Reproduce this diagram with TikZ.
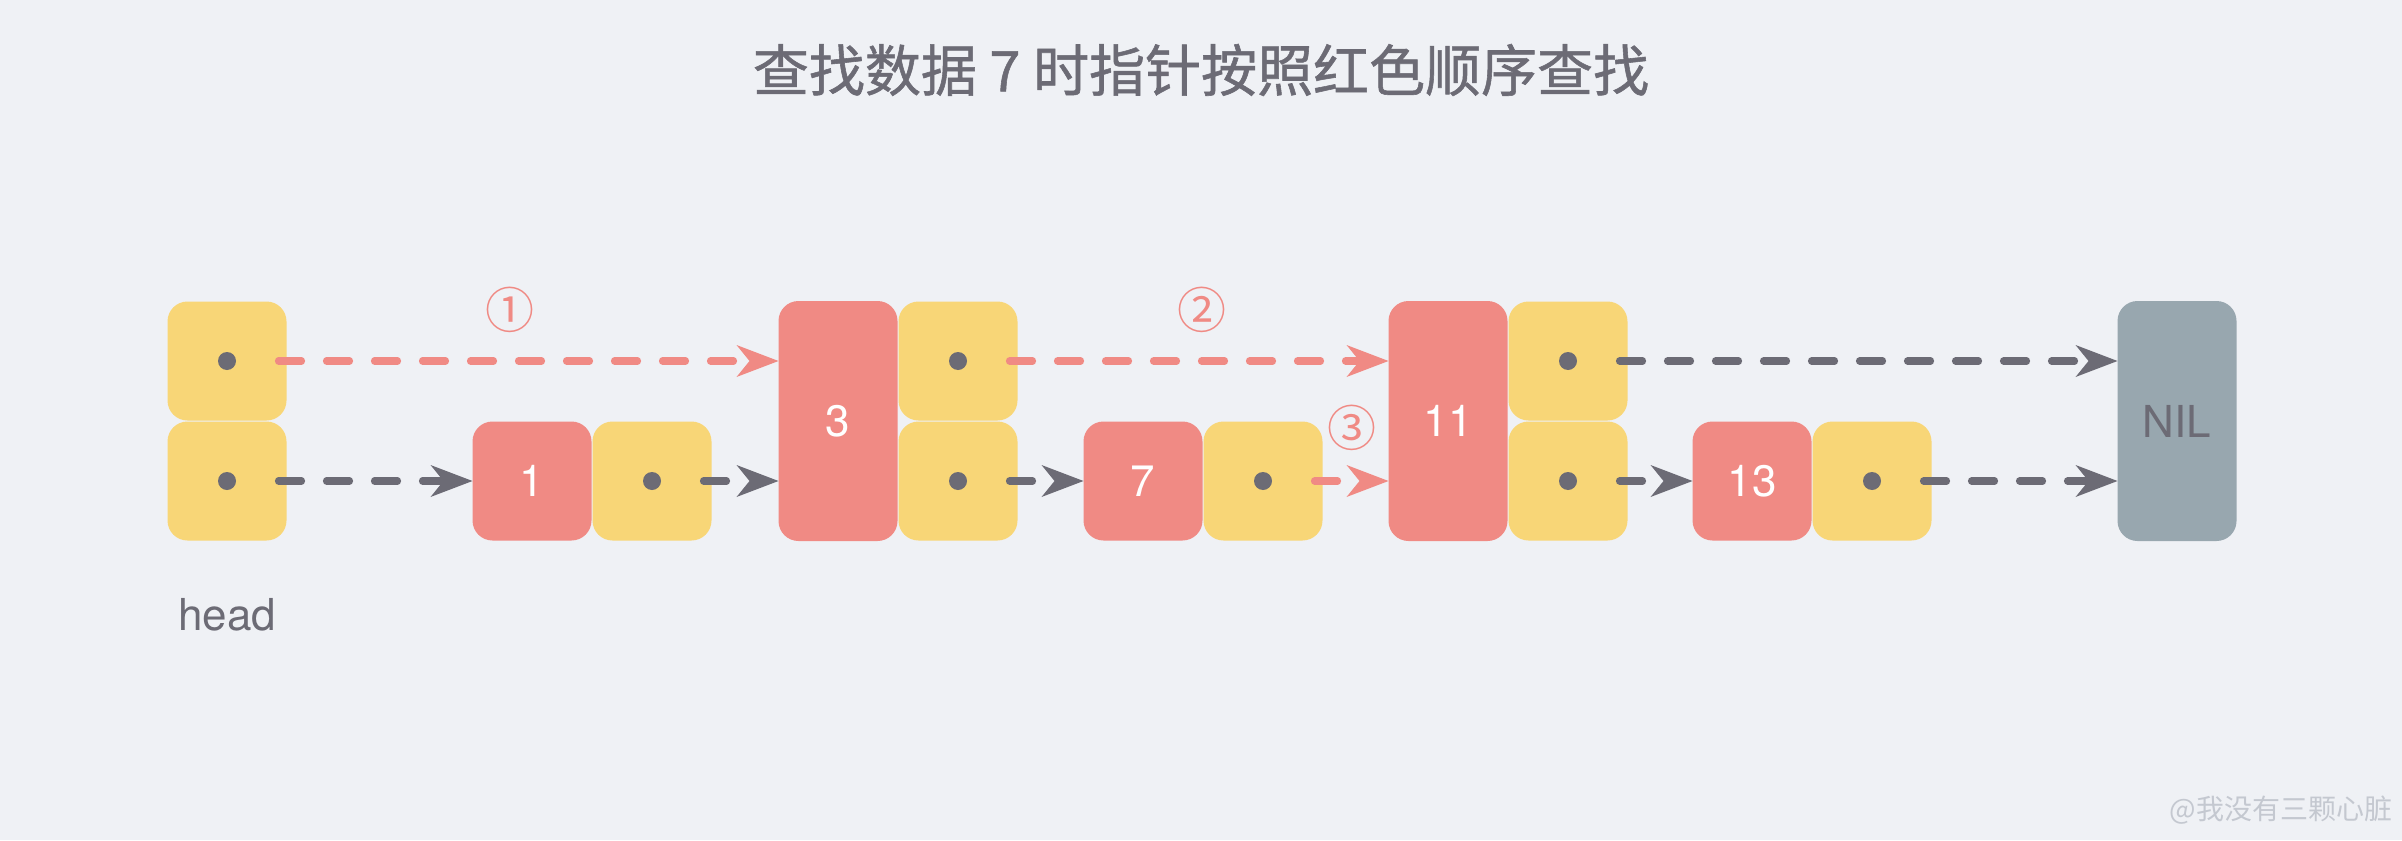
\documentclass[tikz,border=0pt]{standalone}
\usepackage{fontspec}
\setmainfont{TeX Gyre Heros}
\newfontfamily\cjk{Noto Sans CJK SC}
\newfontfamily\cjkb[FakeBold=1.0]{Noto Sans CJK SC}
\usetikzlibrary{arrows.meta}
\definecolor{bg}{HTML}{EFF1F5}
\definecolor{ylw}{HTML}{F8D677}
\definecolor{rd}{HTML}{F08A84}
\definecolor{gry}{HTML}{98A7AF}
\definecolor{dk}{HTML}{6C6B75}
\definecolor{wm}{HTML}{C4C8D0}
\begin{document}
\begin{tikzpicture}[x=0.5pt,y=-0.5pt,
  box/.style={rectangle,rounded corners=10pt,minimum width=59.5pt,minimum height=59.5pt,inner sep=0pt,outer sep=0pt},
  ybox/.style={box,fill=ylw},
  rbox/.style={box,fill=rd,text=white,font=\fontsize{22}{26}\selectfont},
  tall/.style={minimum height=120pt},
  nilbox/.style={box,fill=gry,text=dk,minimum height=120pt,font=\fontsize{22}{26}\selectfont},
  dotc/.style={circle,fill=dk,minimum size=9pt,inner sep=0pt},
  ptr/.style={dash pattern=on 11.5pt off 12.5pt,line width=3.6pt,line cap=round,-{Stealth[length=21pt,width=16pt,inset=6.5pt,line width=0pt]}},
  gptr/.style={ptr,draw=dk},
  rptr/.style={ptr,draw=rd},
  circnum/.style={text=rd,font=\cjk\fontsize{24.5}{27}\selectfont,inner sep=0pt},
  ]
\fill[bg] (0,0) rectangle (2402,840);
\useasboundingbox (0,0) rectangle (2402,840);

% title
\node[text=dk,font=\cjkb\fontsize{28}{32}\selectfont] (title) at (1201,70) {查找数据 7 时指针按照红色顺序查找};

% head
\node[ybox] (h1) at (227,361) {};
\node[ybox] (h0) at (227,481) {};
\node[dotc] (dh1) at (h1.center) {};
\node[dotc] (dh0) at (h0.center) {};
\node[text=dk,font=\fontsize{22}{26}\selectfont] (headlbl) at (227,615) {head};

% 1
\node[rbox] (n1) at (532,481) {1};
\node[ybox] (p1) at (652,481) {};
\node[dotc] (dp1) at (p1.center) {};

% 3
\node[rbox,tall] (n3) at (838,421) {3};
\node[ybox] (p3t) at (958,361) {};
\node[ybox] (p3b) at (958,481) {};
\node[dotc] (dp3t) at (p3t.center) {};
\node[dotc] (dp3b) at (p3b.center) {};

% 7
\node[rbox] (n7) at (1143,481) {7};
\node[ybox] (p7) at (1263,481) {};
\node[dotc] (dp7) at (p7.center) {};

% 11
\node[rbox,tall] (n11) at (1448,421) {11};
\node[ybox] (p11t) at (1568,361) {};
\node[ybox] (p11b) at (1568,481) {};
\node[dotc] (dp11t) at (p11t.center) {};
\node[dotc] (dp11b) at (p11b.center) {};

% 13
\node[rbox] (n13) at (1752,481) {13};
\node[ybox] (p13) at (1872,481) {};
\node[dotc] (dp13) at (p13.center) {};

% NIL
\node[nilbox] (nil) at (2177,421) {NIL};

% pointers
\draw[rptr] ([xshift=-4pt]h1.east) -- (n3.west |- h1.center);
\draw[gptr] ([xshift=-4pt]h0.east) -- (n1.west);
\draw[gptr] ([xshift=-4pt]p1.east) -- (n3.west |- p1.center);
\draw[rptr] ([xshift=-4pt]p3t.east) -- (n11.west |- p3t.center);
\draw[gptr] ([xshift=-4pt]p3b.east) -- (n7.west);
\draw[rptr] ([xshift=-4pt]p7.east) -- (n11.west |- p7.center);
\draw[gptr] ([xshift=-4pt]p11t.east) -- (nil.west |- p11t.center);
\draw[gptr] ([xshift=-4pt]p11b.east) -- (n13.west);
\draw[gptr] ([xshift=-4pt]p13.east) -- (nil.west |- p13.center);

% step labels
\node[circnum] (c1) at (510,310) {①};
\node[circnum] (c2) at (1202,310) {②};
\node[circnum] (c3) at (1352,428) {③};

% watermark
\node[text=wm,font=\cjk\fontsize{14}{16}\selectfont] (wmk) at (2281,810) {@我没有三颗心脏};
\end{tikzpicture}
\end{document}
